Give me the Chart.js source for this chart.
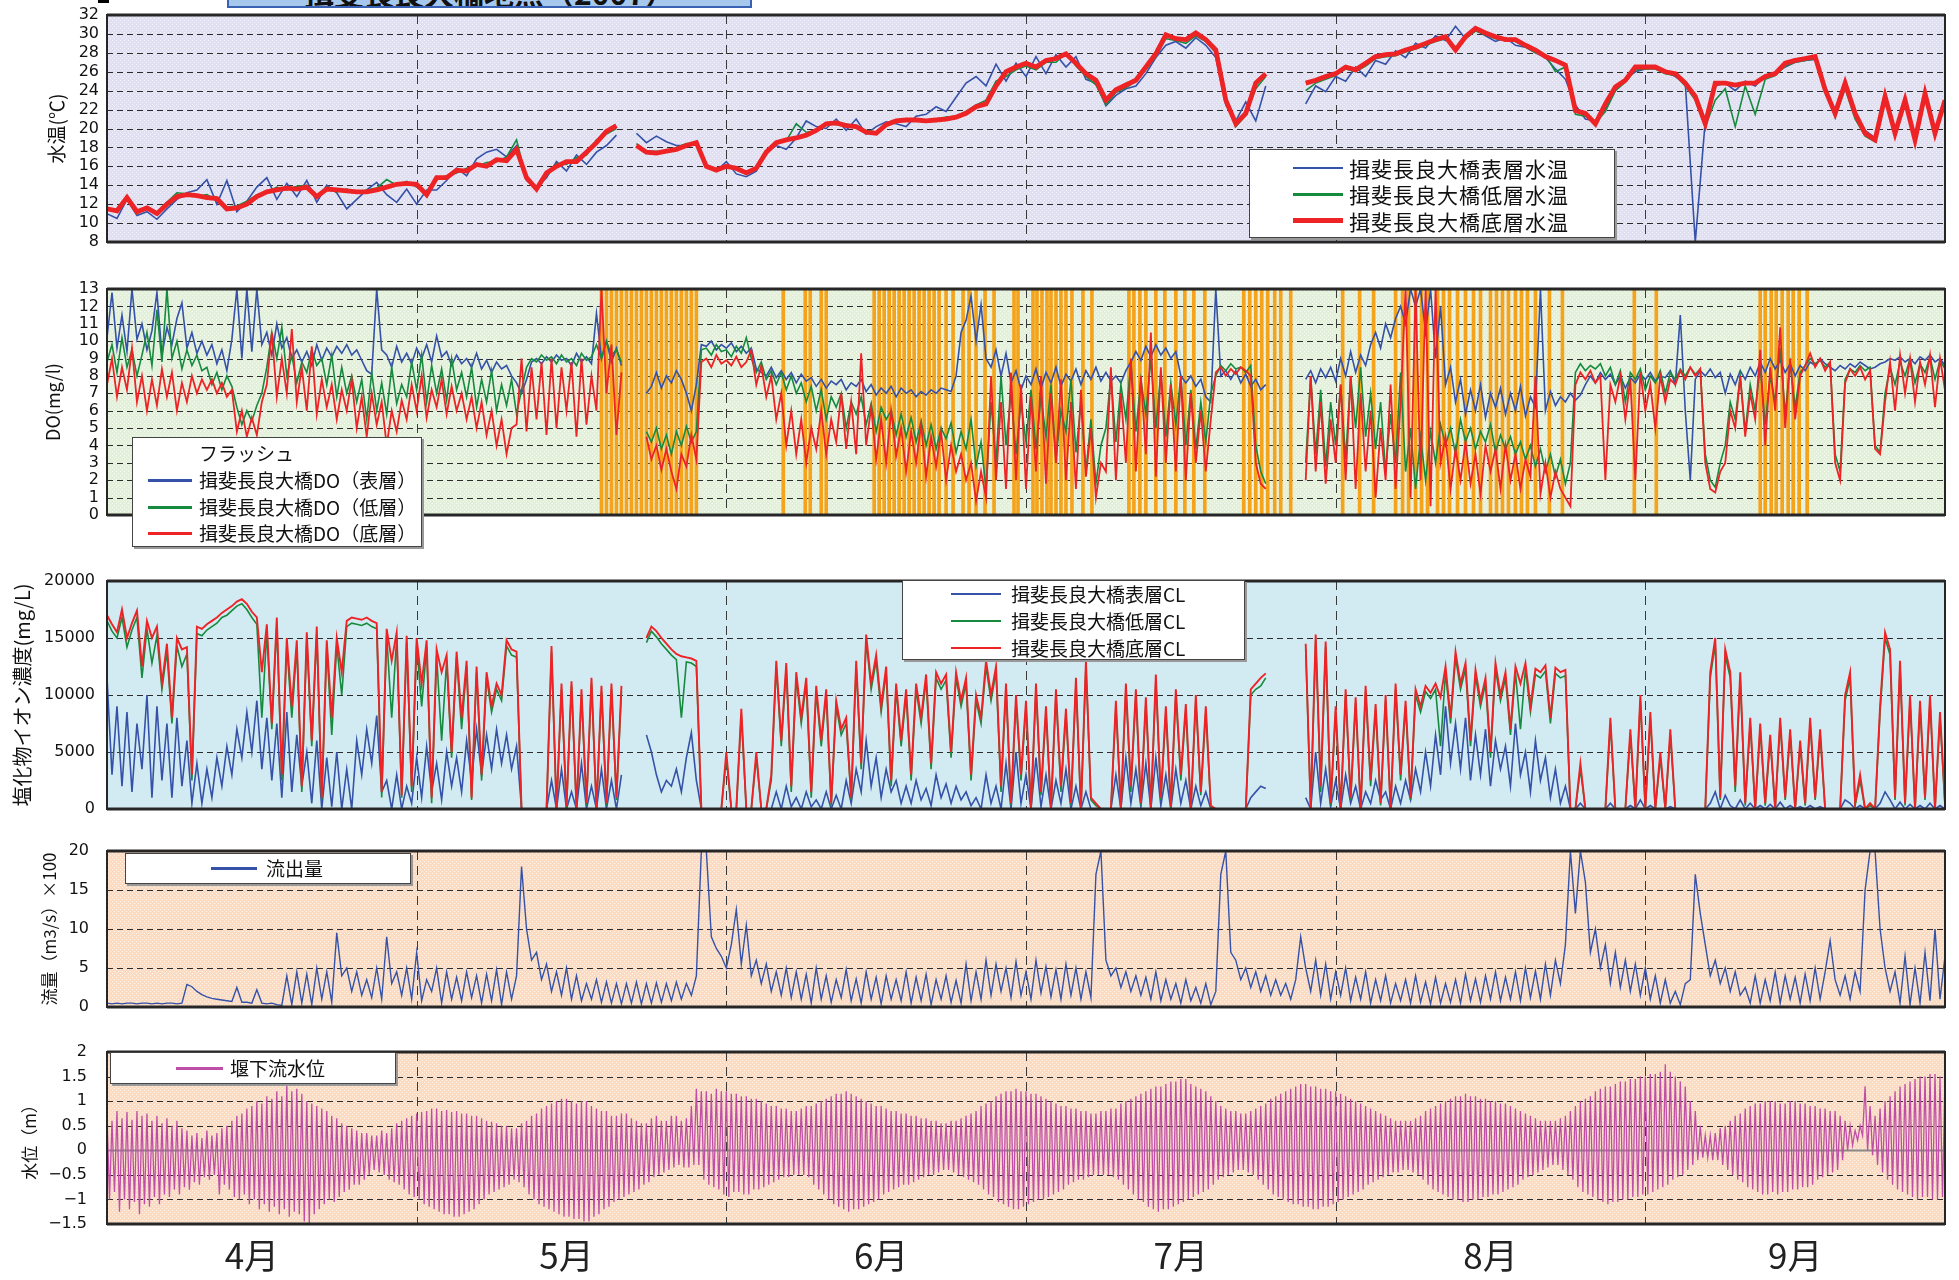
<!DOCTYPE html>
<html>
<head>
<meta charset="utf-8">
<script src="https://cdn.jsdelivr.net/npm/chart.js@4.4.0/dist/chart.umd.min.js"></script>
<style>
body{margin:0;width:1959px;height:1280px;background:#fff;position:relative;overflow:hidden;font-family:"Noto Sans CJK JP",sans-serif}
canvas{position:absolute;left:0}
.lg{position:absolute;background:#fff;border:1px solid #444;box-shadow:2px 2px 0 #999;z-index:5}
.lg i{position:absolute;display:block}
.lg span{position:absolute;white-space:nowrap;color:#111}
.t1 span{font-size:21px;line-height:26px;letter-spacing:1px}
.t2 span{font-size:19px;line-height:22px}
</style>
</head>
<body>
<div style="position:absolute;left:98px;top:0;width:11px;height:3px;background:#000"></div>
<div style="position:absolute;left:227px;top:-30px;width:521px;height:34px;background:#a6c8ec;border:2px solid #3a62b4;text-align:center;font-size:30px;line-height:40px;font-weight:bold;color:#111;overflow:hidden;z-index:5">揖斐長良大橋地点（2007）</div>

<canvas id="c1" width="1959" height="254" style="top:0px"></canvas>
<canvas id="c2" width="1959" height="255" style="top:275px"></canvas>
<canvas id="c3" width="1959" height="256" style="top:567px"></canvas>
<canvas id="c4" width="1959" height="184" style="top:837px"></canvas>
<canvas id="c5" width="1959" height="242" style="top:1038px"></canvas>

<div class="lg t1" style="left:1249px;top:149px;width:364px;height:87px">
 <i style="left:43px;top:17px;width:50px;height:2px;background:#3552a8"></i><span style="left:99px;top:5px">揖斐長良大橋表層水温</span>
 <i style="left:43px;top:43px;width:50px;height:3px;background:#168a3e"></i><span style="left:99px;top:31px">揖斐長良大橋低層水温</span>
 <i style="left:43px;top:68px;width:50px;height:5px;background:#ee2326"></i><span style="left:99px;top:58px">揖斐長良大橋底層水温</span>
</div>
<div class="lg t2" style="left:132px;top:437px;width:288px;height:108px">
 <span style="left:66px;top:4px">フラッシュ</span>
 <i style="left:15px;top:41px;width:44px;height:3px;background:#3552a8"></i><span style="left:66px;top:31px">揖斐長良大橋DO（表層）</span>
 <i style="left:15px;top:68px;width:44px;height:3px;background:#168a3e"></i><span style="left:66px;top:58px">揖斐長良大橋DO（低層）</span>
 <i style="left:15px;top:94px;width:44px;height:3px;background:#ee2326"></i><span style="left:66px;top:84px">揖斐長良大橋DO（底層）</span>
</div>
<div class="lg t2" style="left:902px;top:580px;width:341px;height:78px">
 <i style="left:48px;top:12px;width:50px;height:2px;background:#3552a8"></i><span style="left:108px;top:2px">揖斐長良大橋表層CL</span>
 <i style="left:48px;top:39px;width:50px;height:2px;background:#168a3e"></i><span style="left:108px;top:29px">揖斐長良大橋低層CL</span>
 <i style="left:48px;top:66px;width:50px;height:2px;background:#ee2326"></i><span style="left:108px;top:56px">揖斐長良大橋底層CL</span>
</div>
<div class="lg t2" style="left:125px;top:853px;width:284px;height:29px">
 <i style="left:85px;top:13px;width:46px;height:3px;background:#3552a8"></i><span style="left:140px;top:3px">流出量</span>
</div>
<div class="lg t2" style="left:110px;top:1052px;width:284px;height:30px">
 <i style="left:65px;top:14px;width:47px;height:3px;background:#bf4fa6"></i><span style="left:119px;top:4px">堰下流水位</span>
</div>

<script>
// x axis: days from 1 April (-1 = 31 Mar, 183 = 1 Oct)
var monthStarts = [30, 61, 91, 122, 153];
var monthMids = [13.5, 45, 76.5, 106.5, 137.5, 168];
var monthLabels = ['4月', '5月', '6月', '7月', '8月', '9月'];

// WATER TEMPERATURE (daily, day -1 .. 183) //
var tempSurface = [
 11.0,10.5,12.5,10.8,11.2,10.4,11.5,12.5,13.2,13.5,
 14.6,12.0,14.5,11.2,12.3,13.8,14.8,12.5,14.2,12.8,
 14.5,12.2,14.0,13.2,11.5,12.5,13.5,14.3,13.0,12.2,
 13.6,12.0,13.5,13.5,14.5,15.8,15.0,16.8,17.5,17.8,
 17.0,18.2,14.5,13.8,14.8,16.5,15.5,17.2,16.2,17.5,
 18.2,19.3,null,19.5,18.5,19.2,18.6,18.2,18.2,18.5,
 16.2,15.5,16.5,15.2,14.9,15.5,17.5,18.2,17.8,19.0,
 20.8,20.2,20.0,21.0,19.8,21.0,19.4,20.2,20.7,20.5,
 20.2,21.3,21.5,22.3,21.8,23.3,24.8,25.5,24.5,26.8,
 25.0,26.9,25.5,27.6,25.8,27.8,26.5,27.6,25.2,24.8,
 22.4,23.5,24.2,24.5,25.8,27.5,28.8,29.2,28.5,29.6,
 28.8,27.5,22.5,20.8,22.8,20.8,24.5,null,null,null,
 22.6,24.5,23.9,25.5,25.0,26.5,25.5,27.2,26.8,28.2,
 27.5,29.0,28.5,29.8,29.3,30.8,29.5,30.4,29.8,29.2,
 29.6,28.8,28.6,28.0,27.5,26.3,25.2,22.5,21.0,20.8,
 22.0,24.0,25.2,26.0,26.3,26.5,26.0,25.5,24.8,8.0,
 20.8,24.5,24.8,24.0,25.0,24.5,25.6,25.9,26.5,27.0,
 27.2,27.3,24.5,21.8,24.5,21.5,19.8,19.0,23.0,19.8,
 22.8,19.3,23.5,19.8,22.5
];
var tempMiddle = [
 11.6,11.2,12.5,11.0,11.7,11.1,12.2,13.2,13.1,12.8,
 13.0,12.4,11.7,11.8,12.3,13.0,13.2,13.8,13.5,13.9,
 14.0,12.9,13.8,13.3,13.6,13.2,13.5,13.7,14.6,14.0,
 14.4,13.8,13.2,14.6,15.0,15.3,15.8,16.0,16.4,16.5,
 17.0,18.8,14.6,13.8,15.0,16.3,16.2,16.9,17.2,18.8,
 19.4,20.0,null,18.4,17.6,17.6,17.5,18.0,18.4,18.4,
 16.2,15.5,16.1,15.6,15.2,15.9,17.4,18.6,18.7,20.5,
 19.6,19.7,20.6,20.4,20.5,20.1,19.8,19.6,20.3,20.9,
 20.8,21.0,20.7,21.0,21.2,21.3,21.8,22.5,23.0,25.0,
 25.5,26.2,26.6,26.2,27.0,27.0,28.0,26.6,25.5,24.6,
 22.5,23.8,24.3,25.0,26.2,27.6,29.5,29.3,29.0,29.8,
 29.2,28.0,23.2,20.2,21.4,24.2,25.5,null,null,null,
 24.0,24.8,25.2,25.6,26.3,26.0,26.6,27.4,27.6,27.7,
 28.1,28.4,28.8,29.2,29.5,28.6,29.5,30.3,29.9,29.5,
 29.3,29.2,28.6,28.0,27.8,26.0,26.5,21.5,21.3,20.6,
 21.8,24.0,24.9,26.2,26.3,26.3,25.8,25.6,24.5,23.0,
 20.2,23.0,24.2,20.2,24.5,21.5,25.2,25.6,26.6,27.0,
 27.2,27.4,24.4,21.2,24.2,21.0,19.2,18.6,23.0,19.2,
 22.6,18.6,23.3,19.2,22.7
];
var tempBottom = [
 11.5,11.3,12.7,11.2,11.6,11.0,12.0,12.8,13.0,12.9,
 12.7,12.6,11.5,11.6,12.0,12.8,13.3,13.5,13.7,13.6,
 13.8,12.8,13.6,13.5,13.4,13.3,13.3,13.5,13.8,14.1,
 14.2,14.1,13.0,14.8,14.8,15.6,15.5,16.2,16.0,16.7,
 16.6,17.8,14.8,13.6,15.3,16.0,16.5,16.5,17.5,18.5,
 19.7,20.3,null,18.2,17.5,17.4,17.6,17.8,18.2,18.5,
 16.0,15.6,16.0,15.8,15.3,15.8,17.5,18.5,18.8,19.0,
 19.3,19.8,20.5,20.6,20.3,20.2,19.6,19.5,20.4,20.8,
 20.9,20.9,20.8,20.9,21.0,21.2,21.6,22.3,22.6,24.5,
 26.0,26.5,26.9,26.5,27.2,27.4,27.9,26.9,25.8,25.1,
 23.0,24.1,24.6,25.1,26.5,27.9,29.9,29.5,29.4,30.1,
 29.4,28.3,23.0,20.5,21.6,24.8,25.8,null,null,null,
 24.8,25.1,25.5,25.8,26.5,26.2,26.9,27.6,27.8,27.9,
 28.3,28.6,29.0,29.4,29.7,28.3,29.7,30.6,30.1,29.7,
 29.4,29.4,28.8,28.3,27.6,27.2,26.7,21.9,21.6,20.5,
 22.6,24.4,25.1,26.5,26.5,26.5,26.0,25.8,24.8,23.4,
 20.5,24.8,24.8,24.6,24.8,24.8,25.5,25.8,26.9,27.2,
 27.4,27.6,24.1,21.6,24.8,21.6,19.5,18.8,23.4,19.5,
 23.0,18.8,23.7,19.5,23.0
];

// DO (half-day, day -1 .. 183) //
var doSurface = [
 10.2,12.8,9.6,11.5,9.4,13.0,10.1,11.0,9.5,10.6,12.8,9.2,10.8,9.8,11.3,12.2,9.6,10.5,9.3,10.0,
 9.2,9.8,8.7,9.5,8.3,10.1,13.0,9.0,13.0,9.4,13.0,9.8,10.5,9.2,11.0,9.6,10.2,9.0,9.5,8.8,
 9.4,8.6,9.8,8.9,9.6,9.1,9.7,9.3,9.8,9.2,9.5,8.9,8.3,8.1,13.0,9.5,9.2,8.5,9.7,8.8,
 9.3,8.7,9.6,9.0,9.8,8.8,10.3,9.1,9.4,8.6,9.2,8.7,9.0,8.5,9.3,8.4,8.9,8.2,8.8,8.4,
 8.6,8.0,7.6,7.0,7.8,8.8,9.0,8.7,9.1,8.8,9.2,8.9,9.0,8.6,9.3,8.8,9.1,8.7,11.6,9.0,
 10.0,8.8,9.6,8.6,null,null,null,null,7.0,7.4,8.2,7.3,8.0,7.6,8.3,7.8,7.0,6.0,7.5,9.8,
 9.7,10.0,9.5,9.8,9.6,9.9,9.4,9.7,9.3,9.6,8.4,8.2,8.0,8.5,7.9,8.3,7.8,8.2,7.6,8.1,
 7.7,7.9,7.4,7.8,7.3,7.7,7.5,7.8,7.2,7.6,7.4,7.8,7.1,7.5,6.9,7.3,7.0,7.4,6.8,7.3,
 7.0,7.2,6.8,7.1,6.9,7.2,7.0,7.3,7.2,7.1,8.0,10.5,11.2,12.6,10.0,12.1,9.0,8.5,9.5,8.0,
 9.3,7.6,8.3,7.2,8.0,7.5,8.4,7.3,8.2,7.6,8.5,7.4,8.1,7.7,8.4,7.5,8.3,7.8,8.5,7.7,
 8.2,7.7,8.0,7.6,8.3,8.8,9.4,8.9,9.7,9.1,9.8,9.2,9.6,9.0,9.4,8.0,7.6,8.0,7.4,7.8,
 6.8,6.5,13.0,8.0,8.3,7.8,8.3,7.6,8.1,7.4,7.8,7.2,7.5,null,null,null,null,null,null,null,
 7.8,8.3,7.6,8.4,7.9,8.5,7.7,9.0,8.0,9.4,8.2,9.2,8.6,9.8,10.5,9.6,11.0,10.2,11.3,12.0,
 11.0,13.0,12.0,13.0,10.5,13.0,9.0,12.0,7.5,8.5,6.5,7.8,5.8,7.2,6.0,7.5,5.6,7.0,6.2,7.3,
 5.8,7.0,6.0,7.4,5.7,6.8,6.2,13.0,6.0,7.1,6.3,6.8,6.5,7.0,6.6,6.9,7.5,8.0,7.6,8.2,
 7.8,8.1,7.5,8.0,7.3,7.9,7.6,8.1,7.8,8.2,7.7,8.0,7.9,8.3,7.5,11.5,6.0,2.0,7.8,8.3,
 8.0,8.4,7.9,8.2,7.0,8.1,7.5,8.3,7.8,8.5,8.0,8.8,8.2,9.0,8.4,8.9,8.2,8.7,8.0,8.6,
 8.3,8.8,8.6,9.0,8.7,8.5,8.3,8.6,8.4,8.7,8.5,8.8,8.6,8.4,8.5,8.7,8.8,9.0,8.9,9.1,
 8.8,9.0,8.7,9.1,8.9,9.2,8.8,9.0,8.6
];
var doMiddle = [
 8.8,9.8,8.2,10.2,8.5,9.5,8.0,9.2,10.5,8.6,11.8,8.8,13.0,9.0,10.0,8.4,9.5,8.6,9.2,8.3,
 8.5,7.5,8.2,7.2,8.0,7.4,6.2,5.2,6.0,5.4,6.3,7.0,8.5,10.5,9.0,10.8,8.0,9.2,7.6,8.8,
 8.2,9.5,8.6,9.0,7.5,9.2,6.8,8.5,7.0,8.0,6.5,7.8,5.5,8.2,6.0,7.6,5.8,8.5,6.4,7.5,
 6.8,8.8,7.2,9.2,6.5,8.6,7.0,8.4,6.6,9.0,7.2,8.2,6.8,8.5,6.2,7.8,6.5,8.3,6.0,7.5,
 6.3,7.8,5.8,7.2,8.5,9.0,8.8,9.2,8.9,9.1,8.7,9.2,8.8,9.0,8.6,9.3,8.9,9.1,9.8,9.0,
 10.0,9.2,9.5,8.8,null,null,null,null,4.8,4.2,5.0,3.8,4.6,3.5,4.8,4.0,5.1,4.2,4.8,9.5,
 9.6,9.2,9.8,9.4,9.5,9.1,9.7,9.3,10.2,9.0,8.2,8.8,7.8,8.3,7.5,8.2,7.2,8.0,7.0,7.6,
 6.5,7.4,6.0,7.2,5.5,6.8,6.2,7.0,5.0,6.5,5.8,6.8,5.2,6.4,4.8,6.2,5.5,6.0,4.6,5.8,
 4.5,5.6,4.2,5.4,4.0,5.2,3.8,5.0,4.4,5.3,3.6,4.8,3.8,5.5,2.8,4.2,1.5,6.5,3.0,8.0,
 4.0,7.0,3.5,6.5,4.2,7.2,3.8,6.8,4.5,7.5,3.2,6.0,4.8,7.8,3.6,6.4,2.5,5.5,1.8,4.0,
 5.0,8.0,4.2,7.5,5.5,8.8,4.8,7.8,5.8,9.0,5.0,8.2,4.5,7.6,5.2,8.0,4.0,7.2,3.8,6.5,
 4.2,7.0,8.0,8.6,8.3,8.7,8.4,8.5,8.2,8.6,4.0,2.5,1.8,null,null,null,null,null,null,null,
 3.0,8.0,3.5,7.2,2.8,6.5,4.0,7.5,3.2,8.0,5.0,8.5,4.5,7.0,3.8,6.5,2.5,5.8,3.0,8.2,
 2.5,5.0,1.5,4.5,2.0,4.8,3.0,5.2,4.0,5.0,3.5,5.5,4.2,5.0,3.8,4.8,4.2,5.2,3.6,4.6,
 3.8,4.5,3.5,4.2,3.2,4.0,2.8,3.8,2.5,3.5,2.2,3.2,1.8,3.0,8.2,8.7,8.3,8.6,8.4,8.7,
 8.0,8.5,7.5,8.3,6.5,8.2,7.8,8.4,7.2,8.0,7.6,8.3,7.0,8.2,7.8,8.4,8.0,8.5,8.1,8.4,
 3.5,2.0,1.6,3.0,4.0,6.5,5.5,8.0,4.8,7.5,6.0,8.5,5.2,8.0,6.5,9.6,5.8,8.7,6.2,8.2,
 8.6,9.0,8.7,8.9,8.5,8.8,3.5,2.5,7.8,8.4,8.2,8.6,8.3,8.5,4.0,3.6,7.0,8.5,7.5,8.8,
 8.0,9.0,7.6,8.7,8.2,9.1,7.8,8.9,8.4
];
var doBottom = [
 7.5,9.0,6.8,8.5,7.2,9.6,6.5,8.0,6.0,7.8,6.3,8.4,6.8,8.2,6.0,7.6,6.5,8.0,7.0,7.8,
 7.2,7.8,7.0,7.6,6.8,7.2,4.8,6.0,4.5,5.6,4.6,6.5,7.5,10.5,6.8,9.0,7.0,10.7,6.5,8.5,
 6.0,9.7,5.8,7.8,6.2,7.5,5.5,7.2,6.0,7.8,5.0,6.8,4.5,7.0,5.2,6.5,4.0,6.0,4.8,6.6,
 5.5,7.5,6.0,8.0,5.6,7.2,6.2,7.8,5.8,7.4,6.0,7.0,5.5,6.8,5.0,6.5,4.6,6.0,4.0,5.5,
 3.5,5.0,5.2,9.0,4.8,8.5,5.5,8.8,4.6,9.0,5.0,8.5,6.0,8.8,4.5,9.0,5.2,8.0,6.0,13.0,
 7.0,9.8,4.6,8.2,null,null,null,null,4.5,3.2,4.0,2.6,3.8,2.5,1.5,3.5,2.8,4.6,3.2,8.8,
 9.0,8.5,9.2,8.7,8.9,8.6,9.1,8.5,8.8,9.5,7.5,8.6,6.8,8.0,5.5,7.0,4.0,6.0,3.5,5.5,
 3.0,5.0,3.8,6.0,3.5,5.5,4.2,7.0,3.8,6.5,3.5,9.3,4.0,6.2,3.2,5.5,3.0,6.0,3.4,5.0,
 2.5,4.8,3.0,5.2,2.2,4.5,2.8,4.8,2.0,4.0,2.5,3.5,2.0,3.0,0.8,2.5,1.0,8.0,2.0,6.5,
 1.5,8.2,2.0,7.5,1.5,6.8,2.5,8.0,1.8,7.0,3.0,7.8,2.0,6.5,1.5,7.2,2.2,5.0,1.0,3.0,
 2.5,8.5,2.0,7.0,3.0,9.0,2.5,8.0,3.5,10.5,2.2,8.5,3.0,7.5,2.5,8.0,2.0,7.0,3.0,6.0,
 2.5,5.5,8.2,8.5,8.0,8.4,8.1,8.5,8.3,8.0,3.0,1.8,1.5,null,null,null,null,null,null,null,
 2.0,8.0,2.5,6.5,1.8,5.5,3.0,7.5,2.0,8.0,1.5,7.0,2.5,6.0,1.0,5.0,2.0,7.5,1.5,6.5,
 13.0,1.0,13.0,2.0,13.0,0.5,13.0,3.0,4.5,1.5,3.8,2.0,4.2,1.8,3.5,1.2,4.0,2.5,3.8,1.5,
 4.0,2.0,3.5,1.5,3.2,2.2,8.0,1.2,3.0,1.0,2.5,1.5,1.0,0.5,7.5,8.2,7.8,8.3,7.6,8.0,
 2.0,7.5,6.5,8.0,5.5,7.8,2.0,8.2,6.0,7.5,5.0,8.0,6.5,7.8,7.5,8.3,7.8,8.5,8.0,8.4,
 3.0,1.5,1.3,2.5,3.0,6.0,5.0,8.0,4.5,7.0,5.5,9.5,4.0,8.5,6.0,10.8,5.0,9.0,5.5,8.0,
 8.6,9.3,8.5,9.0,8.3,8.8,3.0,2.0,7.6,8.4,8.0,8.5,7.8,8.3,3.8,3.5,6.5,8.8,6.0,9.2,
 7.0,9.0,6.5,8.8,7.5,9.2,6.2,9.0,7.2
];
// flush operation days
var flushDays = [
 48.5,49,49.5,50,50.5,51,51.5,52,52.5,53,53.5,54,54.5,55,55.5,56,56.5,57,57.5,58,
 66.7,68.9,69.4,70.5,71.0,
 75.8,76.3,76.8,77.3,77.8,78.3,78.8,79.3,79.8,80.3,80.8,81.3,81.8,82.3,83.0,83.7,
 84.7,85.3,86.0,86.9,87.8,
 89.8,90.2,91.7,92.1,92.6,93.1,93.5,94.0,94.5,95.0,95.6,96.7,97.6,
 101.3,101.8,102.4,103.0,104.0,104.9,106.0,106.9,107.8,108.9,
 112.8,113.4,114.0,114.6,115.2,115.9,116.5,117.5,
 122.7,124.4,125.8,
 128.0,128.7,129.3,130.0,130.6,131.2,132.2,132.8,133.4,134.2,135.0,135.8,136.5,137.5,
 138.1,138.7,139.3,140.0,140.6,141.2,142.0,143.4,144.7,
 151.9,154.1,
 164.5,165.0,165.6,166.1,166.7,167.3,167.8,168.4,169.2
];

// CHLORIDE (half-day) //
var clSurface = [
 11500,3000,9000,2000,8500,1500,7500,3500,10000,1000,9000,2500,7500,1000,8000,2000,6000,500,4000,500,
 3500,1000,4500,2000,5500,3000,7000,4500,8500,5000,9500,3500,8000,2500,7500,1000,8500,1500,6500,2000,
 5000,500,6000,0,4500,200,5000,0,3500,0,6000,3000,7000,4000,8200,1500,2500,0,3000,0,
 2000,500,4500,1000,5500,1500,4000,800,5000,2000,4500,1500,6000,2500,7000,3000,6500,3500,7000,4000,
 6500,3500,5500,0,0,0,0,0,0,2500,0,3500,0,1500,0,4000,0,2000,0,3500,
 0,2500,0,3000,null,null,null,null,6500,5000,3000,1500,2500,2000,3500,1500,4500,6700,2500,0,
 0,0,0,0,0,0,0,0,0,0,0,0,0,0,1500,0,2000,200,1000,0,
 1500,200,800,0,1500,0,1200,0,2500,500,3500,1500,6000,2000,4500,1000,3500,1500,2500,500,
 2000,500,2500,800,1800,300,3000,1000,2200,500,2000,800,1500,300,1000,0,3000,500,2000,0,
 4000,0,5000,500,3000,0,4500,200,3000,0,2500,500,3500,0,2000,0,1500,0,0,0,
 0,0,3000,0,4500,500,3500,200,4000,0,4500,300,3000,0,3500,500,2500,0,2000,300,
 1500,0,0,0,0,0,0,0,0,1000,1500,2000,1800,null,null,null,null,null,null,null,
 1000,0,5000,500,3500,200,2500,0,3000,500,2000,0,1500,500,2500,800,1500,0,2000,500,
 2500,800,3500,1500,5000,2000,6500,3000,9000,4000,7500,3500,8000,2500,6500,3000,7000,2000,6000,3500,
 5500,2000,7500,3000,5000,1500,6000,2500,4500,1000,3500,500,2000,0,0,500,0,0,0,0,
 0,500,0,0,0,300,0,800,0,300,0,0,0,200,0,0,0,0,0,0,
 0,500,1500,0,1200,300,0,800,0,500,0,300,0,400,0,600,0,300,0,200,
 0,300,0,200,0,0,0,0,800,500,0,300,0,0,0,500,1500,800,0,600,
 0,400,0,300,0,500,0,300,0
];
var clMiddle = [
 16500,15600,15000,16800,14200,15700,16800,11500,15800,12800,15200,10500,13800,7500,14300,12500,13600,2500,15400,15200,
 15700,16000,16300,16800,17000,17400,17800,18000,17500,16800,16200,8000,15500,7000,16200,2500,14300,8000,14200,1500,
 14900,5500,15400,800,14200,6500,14400,10000,16000,16300,16200,16100,16300,16000,15800,1000,15200,8000,15000,1000,
 14600,1500,14400,9000,14200,500,13400,6000,13000,4500,13300,7000,12500,800,12000,2500,11500,8500,10500,9500,
 14300,13500,13300,0,0,0,0,0,0,13800,0,10500,0,10800,0,10000,300,11000,0,10300,
 300,10500,800,10300,null,null,null,null,14600,15600,15100,14500,14000,13500,13100,8000,12900,12800,12500,0,
 0,0,0,0,4500,0,0,8200,0,0,4500,0,0,2500,12500,5500,12300,1500,11500,7500,
 11000,1000,10300,5500,10000,300,9000,6500,7500,800,12500,3500,14800,10500,13000,8500,12000,2000,10500,5500,
 10000,2500,10500,7500,11300,3500,11500,10500,11300,4500,11500,9000,11000,2500,9500,7500,12500,9500,12000,1500,
 10500,300,9500,2500,9000,0,10500,1200,8500,0,10000,1500,8300,300,11000,0,12500,800,300,0,
 0,0,9000,0,10500,1500,10000,300,9300,0,11300,800,8500,100,10000,2500,8700,0,9500,1200,
 8500,200,0,0,0,0,0,0,0,10000,10500,10800,11500,null,null,null,null,null,null,null,
 14000,0,14800,1500,14200,300,8500,0,10000,800,9300,0,10300,2000,8700,300,9500,0,10500,2500,
 9000,800,10000,8500,10300,9700,10500,5500,12000,7500,13300,10500,12300,5500,11700,9000,11000,4500,12300,9500,
 11500,6500,12000,7000,12300,8500,11800,11500,12100,7500,11900,11500,11700,0,0,3500,0,0,0,0,
 0,7500,0,0,0,6500,0,9500,0,8000,0,4500,0,6500,0,0,0,0,0,0,
 0,11500,14500,800,13500,11500,1500,11500,300,7500,0,7000,300,6000,0,7500,800,6500,0,5500,
 300,7500,800,6500,0,0,0,0,9500,11500,300,2500,0,300,0,8500,15000,13500,800,12500,
 300,9500,0,9000,800,9500,0,8000,300
];
var clBottom = [
 17000,16200,15500,17500,15000,16300,17400,12500,16500,15000,16000,11000,14500,8000,15000,14000,14200,3000,16000,15800,
 16200,16500,16800,17200,17500,17800,18200,18400,18000,17300,16800,12000,16200,7500,16800,3000,15000,9000,14800,2000,
 15500,6000,16000,1000,14800,8000,15000,12000,16500,16800,16700,16600,16800,16500,16300,1500,15800,13000,15500,1200,
 15200,2000,15000,11000,14800,1000,14000,12000,13500,5000,13800,8000,13000,1000,12500,3000,12000,9000,11000,10000,
 14800,14000,13800,0,0,0,0,0,0,14300,0,11000,200,11200,0,10500,500,11500,0,10800,
 500,11000,1000,10800,null,null,null,null,15000,16000,15600,15000,14500,14000,13600,13400,13300,13200,13000,0,
 0,0,0,0,5000,0,0,8800,0,0,5000,0,0,3000,13000,6000,12800,2000,12000,8000,
 11500,1500,10800,6000,10500,500,9500,7000,8000,1000,13000,4000,15300,11000,13500,9000,12500,2500,11000,6000,
 10500,3000,11000,8000,11800,4000,12000,11000,11800,5000,12000,9500,11500,3000,10000,8000,13000,10000,12500,2000,
 11000,500,10000,3000,9500,0,11000,1500,9000,0,10500,2000,8800,500,11500,0,13000,1000,500,0,
 0,0,9500,0,11000,2000,10500,500,9800,0,11800,1000,9000,200,10500,3000,9200,0,10000,1500,
 9000,300,0,0,0,0,0,0,0,10500,11000,11500,11900,null,null,null,null,null,null,null,
 14500,0,15300,2000,14700,500,9000,0,10500,1000,9800,0,10800,2500,9200,500,10000,0,11000,3000,
 9500,1000,10500,9000,10800,10200,11000,9800,12500,8000,13800,11000,12800,6000,12200,9500,11500,5000,12800,10000,
 12000,7000,12500,11000,12800,9000,12300,12000,12600,8000,12400,12000,12200,0,0,4000,0,0,0,0,
 0,8000,0,0,0,7000,0,10000,0,8500,0,5000,0,7000,0,0,0,0,0,0,
 0,12000,15000,1000,14000,12000,2000,12000,500,8000,0,7500,500,6500,0,8000,1000,7000,0,6000,
 500,8000,1000,7000,0,0,0,0,10000,12000,500,3000,0,500,0,9000,15500,14000,1000,13000,
 500,10000,0,9500,1000,10000,0,8500,500
];

// OUTFLOW x100 m3/s (half-day) //
var outflow = [
 0.5,0.4,0.5,0.4,0.5,0.5,0.4,0.5,0.5,0.4,0.5,0.4,0.5,0.5,0.4,0.5,2.9,2.6,2.0,1.6,
 1.3,1.1,1.0,0.9,0.8,0.7,2.5,0.6,0.6,0.5,2.2,0.5,0.4,0.5,0.3,0.2,4.0,0.3,4.5,0.5,
 4.2,0.3,5.0,1.0,4.5,0.6,9.5,4.0,5.0,2.0,4.5,1.5,3.5,1.2,5.0,1.0,9.0,3.0,4.5,1.5,
 5.0,1.0,7.0,0.8,3.5,2.0,5.0,0.5,4.5,1.0,3.8,0.8,4.5,1.2,4.0,0.5,4.2,0.8,4.8,0.3,
 4.5,1.0,4.0,18.0,10.0,6.0,7.0,3.5,5.5,2.0,4.5,1.5,5.0,1.0,4.0,0.8,3.0,1.0,3.5,0.6,
 3.2,0.5,3.0,0.4,3.0,0.5,3.2,0.4,3.0,0.5,3.1,0.6,3.0,0.8,3.2,1.0,3.0,1.5,4.0,20.0,
 20.0,9.0,7.5,6.5,5.0,8.0,12.5,5.5,10.5,4.0,6.0,3.0,5.5,2.0,4.5,1.5,5.0,1.2,4.5,1.0,
 4.2,0.5,5.0,1.0,4.0,0.6,3.5,1.2,4.8,0.8,3.6,0.5,4.5,1.0,3.8,0.4,4.0,1.0,3.5,0.8,
 4.5,0.5,3.8,0.8,4.2,0.3,3.5,1.0,4.0,0.6,3.4,0.5,5.5,0.8,4.5,1.0,6.0,1.5,5.5,2.0,
 5.0,1.2,5.8,1.5,4.5,1.0,6.0,1.8,5.2,1.3,4.8,1.0,5.5,1.5,5.0,1.0,4.5,1.2,17.0,20.0,
 6.0,4.0,5.0,2.5,4.5,2.0,4.0,1.5,3.8,1.0,4.5,0.8,3.5,1.0,3.0,0.5,3.5,0.8,2.5,0.5,
 3.0,0.3,2.0,17.0,20.0,7.0,6.0,3.5,5.0,2.5,4.5,2.0,4.0,1.5,3.5,1.5,3.0,1.0,3.5,9.0,
 5.0,2.0,6.0,1.5,5.5,1.0,4.5,1.5,5.0,0.8,3.8,1.0,4.5,0.5,3.5,0.8,4.0,0.5,3.0,0.8,
 3.5,0.5,4.0,0.6,3.2,0.4,3.8,0.5,3.0,0.6,3.5,0.5,4.2,0.8,3.6,0.6,4.0,1.0,4.5,0.8,
 3.8,1.0,4.5,0.8,5.0,1.2,4.6,1.0,5.5,1.5,6.0,3.0,8.0,20.0,12.0,20.0,16.0,7.0,10.0,5.0,
 8.0,3.0,7.0,2.5,6.0,2.0,5.5,1.5,5.0,1.0,4.0,0.5,3.5,0.5,2.0,0.3,3.0,3.5,17.0,12.0,
 8.0,4.0,6.0,3.0,5.0,2.0,4.5,1.5,2.5,0.5,4.0,0.5,3.5,0.8,4.5,0.5,4.0,1.0,3.8,0.5,
 4.2,0.8,5.0,1.0,4.5,8.5,3.5,1.5,4.0,1.0,4.5,2.0,15.0,20.0,20.0,10.0,5.0,2.0,4.5,0.5,
 6.5,0.3,5.0,0.5,7.0,0.8,10.0,1.0,6.5
];

// WATER LEVEL BELOW WEIR, m (quarter-day, high / low tides) //
var waterLevel = [
 0.75,-1.0,0.6,-0.85,0.8,-1.25,0.65,-1.0,0.78,-1.2,0.62,-1.05,0.8,-1.3,0.7,-1.1,0.75,-1.15,0.6,-0.95,
 0.7,-1.1,0.55,-0.9,0.65,-0.95,0.5,-0.8,0.6,-0.9,0.45,-0.75,0.4,-0.8,0.3,-0.65,0.35,-0.7,0.25,-0.55,
 0.4,-0.6,0.3,-0.5,0.35,-0.9,0.45,-0.7,0.5,-0.8,0.6,-0.95,0.7,-1.0,0.75,-0.9,0.85,-1.1,0.9,-1.0,
 1.0,-1.2,0.95,-1.1,1.1,-1.25,1.05,-1.15,1.2,-1.3,1.1,-1.2,1.35,-1.35,1.2,-1.25,1.25,-1.3,1.15,-1.45,
 1.0,-1.5,0.95,-1.3,0.9,-1.2,0.85,-1.1,0.8,-1.0,0.7,-1.05,0.65,-0.95,0.55,-0.85,0.5,-0.8,0.45,-0.7,
 0.4,-0.7,0.35,-0.6,0.35,-0.5,0.3,-0.4,0.3,-0.45,0.4,-0.5,0.35,-0.6,0.45,-0.65,0.55,-0.7,0.6,-0.8,
 0.65,-0.9,0.7,-0.95,0.75,-1.0,0.78,-1.1,0.8,-1.15,0.85,-1.2,0.85,-1.25,0.8,-1.3,0.82,-1.3,0.78,-1.35,
 0.8,-1.35,0.75,-1.3,0.75,-1.25,0.7,-1.2,0.7,-1.1,0.65,-1.0,0.6,-0.9,0.58,-0.85,0.55,-0.8,0.5,-0.75,
 0.5,-0.7,0.45,-0.6,0.45,-0.65,0.55,-0.75,0.6,-0.9,0.7,-1.0,0.75,-1.1,0.85,-1.15,0.9,-1.2,0.95,-1.25,
 1.0,-1.3,1.05,-1.35,1.05,-1.35,1.0,-1.4,0.95,-1.4,1.0,-1.45,1.0,-1.45,0.9,-1.35,0.85,-1.3,0.8,-1.2,
 0.8,-1.15,0.7,-1.05,0.7,-1.0,0.75,-0.95,0.75,-0.9,0.65,-0.85,0.6,-0.8,0.55,-0.7,0.55,-0.65,0.65,-0.55,
 0.7,-0.5,0.6,-0.45,0.6,-0.4,0.7,-0.35,0.7,-0.3,0.6,-0.35,0.65,-0.35,0.9,-0.3,1.25,-0.3,1.2,-0.6,
 1.2,-0.7,1.15,-0.75,1.25,-0.8,1.2,-0.9,1.2,-0.95,1.15,-0.85,1.15,-0.85,1.1,-0.9,1.1,-0.9,1.05,-0.8,
 1.05,-0.8,1.0,-0.75,0.95,-0.7,0.9,-0.65,0.9,-0.6,0.85,-0.55,0.85,-0.55,0.8,-0.5,0.8,-0.5,0.85,-0.5,
 0.9,-0.55,0.9,-0.7,0.95,-0.8,1.0,-0.9,1.05,-1.0,1.1,-1.1,1.15,-1.15,1.15,-1.2,1.2,-1.25,1.15,-1.2,
 1.1,-1.2,1.05,-1.15,1.0,-1.1,0.95,-1.05,0.9,-1.0,0.9,-0.9,0.85,-0.85,0.8,-0.8,0.8,-0.75,0.75,-0.7,
 0.75,-0.7,0.7,-0.65,0.7,-0.6,0.65,-0.55,0.65,-0.5,0.6,-0.5,0.6,-0.45,0.55,-0.4,0.55,-0.4,0.6,-0.45,
 0.6,-0.5,0.65,-0.55,0.7,-0.6,0.75,-0.65,0.8,-0.7,0.9,-0.8,0.95,-0.9,1.0,-0.95,1.1,-1.05,1.15,-1.1,
 1.2,-1.15,1.2,-1.2,1.25,-1.2,1.2,-1.15,1.2,-1.1,1.15,-1.05,1.15,-1.0,1.1,-1.0,1.05,-0.95,1.0,-0.9,
 0.95,-0.85,0.9,-0.8,0.9,-0.7,0.85,-0.65,0.85,-0.6,0.8,-0.6,0.8,-0.55,0.75,-0.5,0.75,-0.5,0.8,-0.5,
 0.8,-0.5,0.85,-0.55,0.85,-0.6,0.95,-0.7,1.0,-0.8,1.05,-0.9,1.1,-1.0,1.15,-1.05,1.2,-1.15,1.25,-1.2,
 1.3,-1.25,1.3,-1.2,1.35,-1.2,1.4,-1.15,1.4,-1.1,1.45,-1.05,1.45,-1.0,1.35,-0.95,1.3,-0.9,1.25,-0.85,
 1.2,-0.8,1.1,-0.7,1.0,-0.6,0.9,-0.55,0.85,-0.5,0.8,-0.45,0.8,-0.4,0.75,-0.4,0.75,-0.45,0.8,-0.5,
 0.85,-0.6,0.9,-0.7,0.95,-0.8,1.05,-0.9,1.1,-0.95,1.15,-1.0,1.2,-1.05,1.25,-1.1,1.3,-1.1,1.35,-1.15,
 1.35,-1.15,1.3,-1.2,1.3,-1.2,1.25,-1.15,1.25,-1.15,1.2,-1.1,1.2,-1.05,1.15,-1.0,1.1,-0.95,1.05,-0.9,
 1.0,-0.85,0.95,-0.8,0.9,-0.7,0.85,-0.65,0.8,-0.6,0.75,-0.55,0.7,-0.5,0.65,-0.45,0.6,-0.45,0.6,-0.4,
 0.6,-0.4,0.6,-0.45,0.65,-0.5,0.7,-0.6,0.8,-0.7,0.85,-0.8,0.9,-0.85,0.95,-0.9,1.0,-0.95,1.05,-1.0,
 1.1,-1.0,1.1,-1.05,1.15,-1.05,1.1,-1.0,1.1,-1.0,1.05,-0.95,1.05,-0.95,1.0,-0.9,1.0,-0.9,0.95,-0.85,
 0.95,-0.8,0.9,-0.75,0.85,-0.7,0.8,-0.6,0.75,-0.55,0.7,-0.5,0.65,-0.45,0.6,-0.4,0.6,-0.35,0.6,-0.3,
 0.6,-0.3,0.65,-0.4,0.7,-0.5,0.8,-0.6,0.9,-0.75,1.0,-0.85,1.05,-0.9,1.1,-0.95,1.2,-1.0,1.25,-1.05,
 1.3,-1.1,1.3,-1.05,1.35,-1.05,1.4,-1.0,1.4,-1.0,1.45,-0.95,1.45,-0.95,1.5,-0.9,1.5,-0.9,1.55,-0.85,
 1.55,-0.8,1.6,-0.75,1.75,-0.7,1.6,-0.6,1.5,-0.55,1.4,-0.5,1.3,-0.4,1.0,-0.3,0.8,-0.2,0.5,-0.15,
 0.3,-0.15,0.3,-0.2,0.35,-0.2,0.45,-0.3,0.5,-0.4,0.6,-0.5,0.7,-0.6,0.75,-0.65,0.85,-0.75,0.9,-0.8,
 0.95,-0.85,0.95,-0.9,1.0,-0.9,1.0,-0.85,1.0,-0.9,0.95,-0.85,0.95,-0.85,1.0,-0.8,1.0,-0.8,0.95,-0.75,
 0.95,-0.75,0.9,-0.7,0.9,-0.6,0.85,-0.55,0.85,-0.5,0.8,-0.45,0.8,-0.4,0.7,-0.2,0.6,0.0,0.5,0.1,
 0.4,0.2,0.5,0.3,1.3,0.0,0.9,-0.1,0.7,-0.3,0.85,-0.45,1.0,-0.6,1.1,-0.7,1.2,-0.8,1.3,-0.85,
 1.35,-0.9,1.4,-0.95,1.45,-1.0,1.5,-0.95,1.5,-0.95,1.55,-1.0,1.55,-1.0,1.5,-0.95,1.5
];

// COLORS //
var cBlue = '#3552a8', cGreen = '#168a3e', cRed = '#ee2326', cOrange = '#f5a31a', cPink = '#bf4fa6';
var tickFont = { family: 'DejaVu Sans', size: 16 };
var jpFont = 'Noto Sans CJK JP';

// HELPERS //
function pts(vals, start, step) {
    return vals.map(function (v, i) { return { x: start + i * step, y: v }; });
}

function makePattern(base, dot) {
    var p = document.createElement('canvas');
    p.width = 4; p.height = 4;
    var g = p.getContext('2d');
    g.fillStyle = base; g.fillRect(0, 0, 4, 4);
    if (dot) {
        g.fillStyle = dot;
        g.fillRect(0, 0, 1, 1); g.fillRect(2, 2, 1, 1);
    }
    return p;
}

// background, dashed grid and frame for each panel
var panelPlugin = {
    id: 'panel',
    beforeDraw: function (chart, args, o) {
        var ctx = chart.ctx, a = chart.chartArea;
        ctx.save();
        ctx.fillStyle = ctx.createPattern(makePattern(o.bg, o.dot), 'repeat');
        ctx.fillRect(a.left, a.top, a.right - a.left, a.bottom - a.top);
        var ys = chart.scales.y;
        ys.ticks.forEach(function (t) {
            if (t.value <= ys.min || t.value >= ys.max) return;
            var y = Math.round(ys.getPixelForValue(t.value)) + 0.5;
            if (o.zeroLine && t.value === 0) {
                ctx.setLineDash([]); ctx.strokeStyle = '#8a8a8a'; ctx.lineWidth = 2;
            } else {
                ctx.setLineDash([6, 4]); ctx.strokeStyle = '#2b2b2b'; ctx.lineWidth = 1;
            }
            ctx.beginPath(); ctx.moveTo(a.left, y); ctx.lineTo(a.right, y); ctx.stroke();
        });
        var xs = chart.scales.x;
        ctx.setLineDash([9, 6]); ctx.strokeStyle = '#3a3a3a'; ctx.lineWidth = 1;
        monthStarts.forEach(function (d) {
            var x = Math.round(xs.getPixelForValue(d)) + 0.5;
            ctx.beginPath(); ctx.moveTo(x, a.top); ctx.lineTo(x, a.bottom); ctx.stroke();
        });
        ctx.restore();
    },
    afterDraw: function (chart) {
        var ctx = chart.ctx, a = chart.chartArea;
        ctx.save();
        ctx.strokeStyle = '#262626';
        ctx.lineWidth = 2;
        ctx.strokeRect(a.left, a.top, a.right - a.left, a.bottom - a.top);
        ctx.lineWidth = 3;
        ctx.beginPath();
        ctx.moveTo(a.left, a.top); ctx.lineTo(a.right, a.top);
        ctx.moveTo(a.left, a.bottom); ctx.lineTo(a.right, a.bottom);
        ctx.stroke();
        ctx.restore();
    }
};

// lower "order" is drawn later, i.e. on top
function line(data, color, width, order) {
    return { type: 'line', data: data, borderColor: color, borderWidth: width, pointRadius: 0,
             tension: 0, spanGaps: false, fill: false, order: order };
}

function makePanel(id, cfg) {
    var xAxis = { type: 'linear', min: -1, max: 183, offset: false, display: false };
    if (cfg.months) {
        xAxis = {
            type: 'linear', min: -1, max: 183, offset: false, display: true,
            grid: { display: false, drawTicks: false }, border: { display: false },
            afterBuildTicks: function (s) { s.ticks = monthMids.map(function (v) { return { value: v }; }); },
            afterFit: function (s) { s.height = 56; },
            ticks: { autoSkip: false, maxRotation: 0, padding: 11, color: '#222',
                     font: { family: jpFont, size: 35 },
                     callback: function (v, i) { return monthLabels[i]; } }
        };
    }
    return new Chart(document.getElementById(id), {
        type: 'line',
        data: { datasets: cfg.datasets },
        options: {
            responsive: false, animation: false, devicePixelRatio: 1,
            layout: { padding: { left: 0, right: 14, top: cfg.padTop, bottom: cfg.padBottom } },
            scales: {
                x: xAxis,
                y: {
                    min: cfg.min, max: cfg.max,
                    afterFit: function (s) { s.width = 107; },
                    // invisible tick marks give the gap between labels and frame
                    grid: { display: true, drawOnChartArea: false, drawTicks: true,
                            tickLength: cfg.tickGap, color: 'rgba(0,0,0,0)' },
                    border: { display: false },
                    ticks: { stepSize: cfg.step, autoSkip: false, color: '#111', font: tickFont, padding: 0,
                             callback: function (v) { return String(v).replace('-', '−'); } },
                    title: { display: true, text: cfg.title, color: '#111',
                             font: { family: jpFont, size: cfg.titleSize },
                             padding: { top: cfg.titlePad, bottom: 0 } }
                }
            },
            plugins: { legend: { display: false }, tooltip: { enabled: false }, panel: cfg.panel }
        },
        plugins: [panelPlugin]
    });
}

// PANEL 1: WATER TEMPERATURE //
makePanel('c1', {
    min: 8, max: 32, step: 2, padTop: 15, padBottom: 12, tickGap: 8,
    title: '水温(℃)', titleSize: 19, titlePad: 45,
    panel: { bg: '#e0e0f2', dot: '#f3f3fb' },
    datasets: [
        line(pts(tempSurface, -1, 1), cBlue, 1.6, 3),
        line(pts(tempMiddle, -1, 1), cGreen, 1.6, 2),
        line(pts(tempBottom, -1, 1), cRed, 4.8, 1)
    ]
});

// PANEL 2: DO //
makePanel('c2', {
    min: 0, max: 13, step: 1, padTop: 14, padBottom: 15, tickGap: 8,
    title: 'DO(mg/l)', titleSize: 18, titlePad: 42,
    panel: { bg: '#e3f0da', dot: '#f5faf0' },
    datasets: [
        { type: 'bar', data: flushDays.map(function (d) { return { x: d, y: 13 }; }),
          backgroundColor: cOrange, barThickness: 3, grouped: false, order: 10 },
        line(pts(doSurface, -1, 0.5), cBlue, 1.6, 3),
        line(pts(doMiddle, -1, 0.5), cGreen, 1.6, 2),
        line(pts(doBottom, -1, 0.5), cRed, 1.8, 1)
    ]
});

// PANEL 3: CHLORIDE //
makePanel('c3', {
    min: 0, max: 20000, step: 5000, padTop: 14, padBottom: 14, tickGap: 12,
    title: '塩化物イオン濃度(mg/L)', titleSize: 20, titlePad: 10,
    panel: { bg: '#d2ebf2', dot: null },
    datasets: [
        line(pts(clSurface, -1, 0.5), cBlue, 1.6, 3),
        line(pts(clMiddle, -1, 0.5), cGreen, 1.6, 2),
        line(pts(clBottom, -1, 0.5), cRed, 1.9, 1)
    ]
});

// PANEL 4: OUTFLOW //
makePanel('c4', {
    min: 0, max: 20, step: 5, padTop: 14, padBottom: 14, tickGap: 18,
    title: '流量（m3/s）×100', titleSize: 17, titlePad: 39,
    panel: { bg: '#fbdcc2', dot: '#fff3e8' },
    datasets: [ line(pts(outflow, -1, 0.5), cBlue, 1.4, 1) ]
});

// PANEL 5: WATER LEVEL //
makePanel('c5', {
    min: -1.5, max: 2, step: 0.5, padTop: 14, padBottom: 0, tickGap: 20, months: true,
    title: '水位（m）', titleSize: 17, titlePad: 19,
    panel: { bg: '#fbdcc2', dot: '#fff3e8', zeroLine: true },
    datasets: [ line(pts(waterLevel, -1, 0.25), cPink, 1.3, 1) ]
});
</script>
</body>
</html>
